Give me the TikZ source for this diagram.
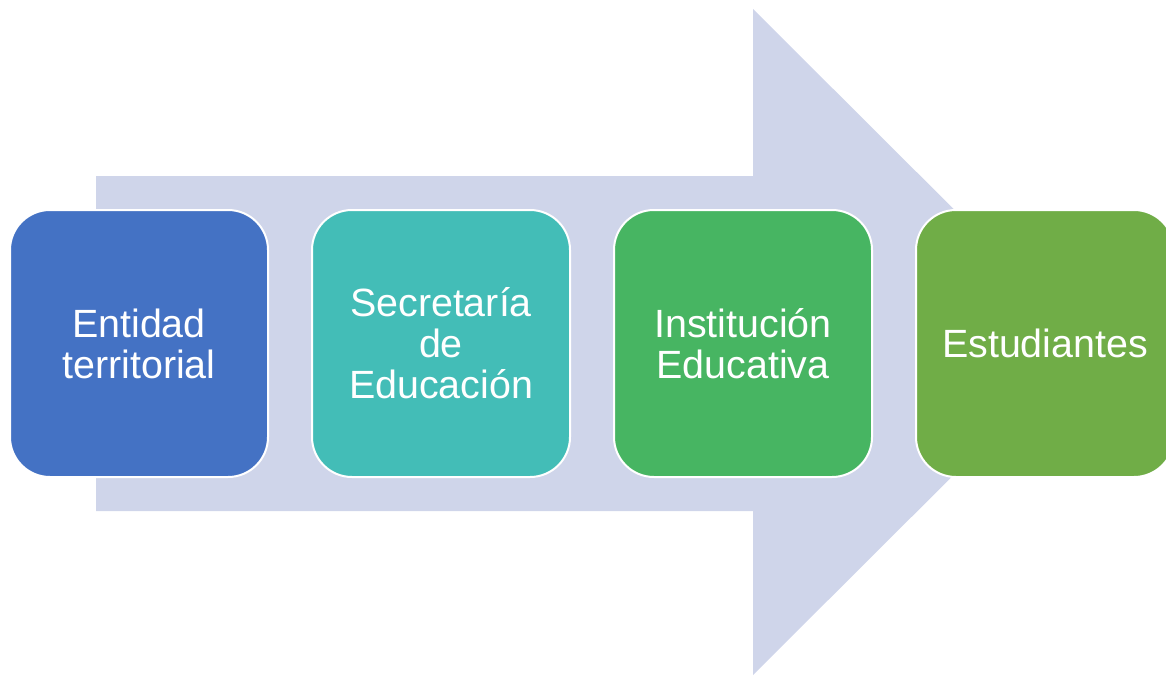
\documentclass[tikz,border=0pt]{standalone}
\usepackage{fontspec}
\setmainfont{Liberation Sans}
\definecolor{arrowc}{HTML}{CFD5EA}
\definecolor{c1}{HTML}{4472C4}
\definecolor{c2}{HTML}{43BDB7}
\definecolor{c3}{HTML}{47B562}
\definecolor{c4}{HTML}{70AD47}
\tikzset{
  stagebox/.style={draw=white, line width=2pt, rounded corners=40pt, minimum width=258pt, minimum height=267pt, inner sep=0pt, text=white, align=center, font=\fontsize{39.4pt}{41pt}\selectfont},
}
\begin{document}
\begin{tikzpicture}[x=1pt,y=-1pt]
\useasboundingbox (0,0) rectangle (1166,675);
\clip (0,0) rectangle (1166,675);
\fill[arrowc] (96,176) -- (753,176) -- (753,9) -- (1087,342) -- (753,675) -- (753,511) -- (96,511) -- cycle;
\node[stagebox, fill=c1] (a) at (139,343.5) {Entidad\\territorial};
\node[stagebox, fill=c2] (b) at (441,343.5) {Secretaría\\de\\Educación};
\node[stagebox, fill=c3] (c) at (743,343.5) {Institución\\Educativa};
\node[stagebox, fill=c4] (d) at (1045,343.5) {Estudiantes};
\end{tikzpicture}
\end{document}
